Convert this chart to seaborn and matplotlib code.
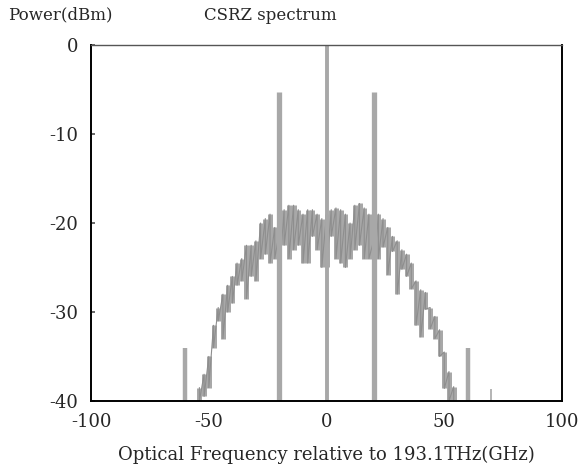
import numpy as np
import pandas as pd
import matplotlib
matplotlib.use("Agg")
import matplotlib.pyplot as plt
import seaborn as sns

# spectrum body: frequency (GHz), upper and lower level (dBm)
freq = [-54, -52, -50, -48, -46, -44, -42, -40, -38, -36, -34, -32, -30, -28,
        -26, -24, -22, -20, -18, -16, -14, -12, -10, -8, -6, -4, -2, 0,
        2, 4, 6, 8, 10, 12, 14, 16, 18, 20, 22, 24, 26, 28,
        30, 32, 34, 36, 38, 40, 42, 44, 46, 48, 50, 52, 54]
upper = [-38.5, -37.0, -35.0, -31.5, -29.5, -28.0, -27.0, -26.0, -24.5, -24.0, -22.5, -22.5, -22.0, -20.0,
         -19.5, -19.0, -20.5, -21.0, -18.5, -18.0, -18.0, -18.5, -19.0, -18.5, -18.5, -19.0, -19.5, -19.0,
         -18.5, -18.3, -18.5, -19.0, -20.0, -18.0, -17.8, -18.3, -19.0, -22.0, -19.0, -19.5, -20.5, -21.5,
         -22.0, -23.0, -23.5, -24.5, -26.5, -27.5, -27.8, -29.5, -30.5, -32.0, -34.5, -36.7, -38.4]
lower = [-40.0, -39.5, -38.5, -34.0, -31.0, -33.0, -30.0, -29.0, -27.0, -26.5, -28.5, -26.0, -26.5, -24.0,
         -23.5, -24.5, -24.0, -25.5, -22.5, -24.0, -23.0, -22.5, -24.5, -24.5, -21.5, -23.0, -25.0, -25.0,
         -21.5, -24.0, -24.5, -25.0, -24.0, -23.0, -22.5, -24.0, -24.0, -25.8, -24.0, -22.7, -25.8, -23.2,
         -28.0, -25.2, -26.0, -27.4, -31.5, -32.8, -29.7, -31.9, -33.0, -35.0, -38.6, -40.0, -40.0]

# discrete tones (carrier line and sidebands)
tone_freq = [0, -20, 20, -60, 60, 70]
tone_peak = [0.0, -5.3, -5.3, -34.0, -34.0, -38.7]
tone_width = [2.8, 3.8, 3.8, 3.2, 3.2, 1.2]

floor_db = -40
xticks = [-100, -50, 0, 50, 100]
yticks = [0, -10, -20, -30, -40]

sns.set_theme(style="ticks")
plt.rcParams["font.family"] = ["DejaVu Serif"]

fig = plt.figure(figsize=(5.8, 4.7), dpi=100)
ax = fig.add_axes([0.157, 0.147, 0.812, 0.757])

gray = "#a8a8a8"
ax.vlines(freq, lower, upper, color=gray, linewidth=3.6)

# oscillating trace: up to the upper level, down to the lower level, per sample
trace = pd.DataFrame({
    "freq": np.repeat(freq, 2),
    "power": np.column_stack([upper, lower]).ravel(),
})
sns.lineplot(data=trace, x="freq", y="power", ax=ax, sort=False,
             estimator=None, color="#8e8e8e", linewidth=0.8)
ax.vlines(tone_freq, floor_db, tone_peak, color=gray, linewidths=tone_width)

ax.set_xlim(-100, 100)
ax.set_ylim(-40, 0)
ax.set_xticks(xticks)
ax.set_xticklabels([str(v) for v in xticks], fontsize=13)
ax.set_yticks(yticks)
ax.set_yticklabels([str(v) for v in yticks], fontsize=13)
ax.tick_params(axis="x", length=0, pad=9)
ax.tick_params(axis="y", direction="in", length=3, pad=9, color="#555555")
ax.set_xlabel("Optical Frequency relative to 193.1THz(GHz)", fontsize=13, labelpad=10)
ax.set_ylabel("")

for side in ["left", "bottom", "right"]:
    ax.spines[side].set_color("black")
    ax.spines[side].set_linewidth(1.4)
ax.spines["top"].set_color("#555555")
ax.spines["top"].set_linewidth(1.0)

fig.text(8 / 580, 1 - 15 / 470, "Power(dBm)", fontsize=12, ha="left", va="center")
fig.text(270 / 580, 1 - 15 / 470, "CSRZ spectrum", fontsize=12, ha="center", va="center")

fig.savefig("out.png", dpi=100)
